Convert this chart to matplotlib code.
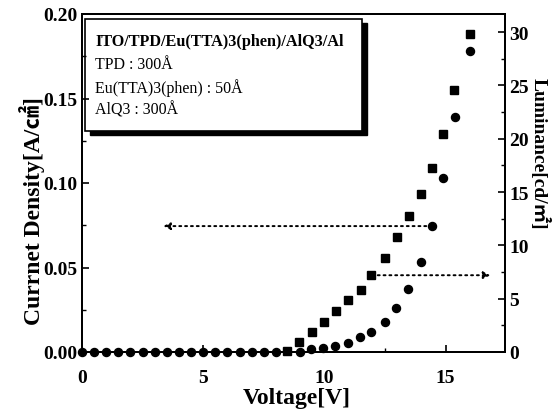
import matplotlib
matplotlib.use("Agg")
import matplotlib.pyplot as plt
from matplotlib.ticker import MultipleLocator
from matplotlib.patches import Rectangle

FAM = ['Liberation Serif', 'Noto Sans CJK JP', 'DejaVu Sans']
plt.rcParams['font.family'] = FAM

# Current density (circles, left axis)
v_cur = [0, 0.5, 1, 1.5, 2, 2.5, 3, 3.5, 4, 4.5, 5, 5.5, 6, 6.5, 7, 7.5, 8, 9,
         9.45, 9.95, 10.45, 10.98, 11.46, 11.93, 12.48, 12.97, 13.46, 14.0, 14.45, 14.9, 15.37, 16.0]
j_cur = [0, 0, 0, 0, 0, 0, 0, 0, 0, 0, 0, 0, 0, 0, 0, 0, 0, 0,
         0.0018, 0.0024, 0.0037, 0.0053, 0.0087, 0.012, 0.018, 0.026, 0.037, 0.053, 0.0745, 0.103, 0.139, 0.178]

# Luminance (squares, right axis)
v_lum = [8.46, 8.97, 9.49, 9.97, 10.48, 10.98, 11.49, 11.94, 12.49, 13.0, 13.48, 14.0, 14.45, 14.9, 15.34, 16.0]
lum = [0.1, 0.9, 1.85, 2.8, 3.8, 4.9, 5.85, 7.2, 8.8, 10.75, 12.8, 14.8, 17.3, 20.4, 24.6, 29.8]

legend_lines = ["ITO/TPD/Eu(TTA)3(phen)/AlQ3/Al", "TPD : 300Å", "Eu(TTA)3(phen) : 50Å", "AlQ3 : 300Å"]

fig = plt.figure(figsize=(5.6, 4.14), dpi=100)
ax = fig.add_axes([82/560, 61/414, 423/560, 338/414])
ax2 = ax.twinx()
ax.set_zorder(ax2.get_zorder() + 1)
ax.patch.set_visible(False)

ax.plot(v_cur, j_cur, 'o', color='black', markersize=5.8, zorder=3, clip_on=False)
ax2.plot(v_lum, lum, 's', color='black', markersize=5.2, zorder=3, clip_on=False)

ax.set_xlim(0, 17.45)
ax.set_ylim(0, 0.20)
ax2.set_ylim(0, 31.7)

ax.xaxis.set_major_locator(MultipleLocator(5))
ax.xaxis.set_minor_locator(MultipleLocator(2.5))
ax.yaxis.set_major_locator(MultipleLocator(0.05))
ax.yaxis.set_minor_locator(MultipleLocator(0.025))
ax2.yaxis.set_major_locator(MultipleLocator(5))
ax2.yaxis.set_minor_locator(MultipleLocator(2.5))

for a in (ax, ax2):
    a.tick_params(which='major', direction='in', length=5, width=1.2, labelsize=14, pad=3)
    a.tick_params(which='minor', direction='in', length=3, width=1.0)
    for s in a.spines.values():
        s.set_linewidth(1.4)
ax.tick_params(axis='x', pad=12)

ax.set_yticklabels([f"{t:.2f}" for t in ax.get_yticks()])
for lab in ax.get_xticklabels() + ax.get_yticklabels() + ax2.get_yticklabels():
    lab.set_fontweight('bold')

ax.set_xlabel("Voltage[V]", fontsize=17, fontweight='bold', va='center')
ax.xaxis.set_label_coords(0.508, -0.136)
ax.set_ylabel("Currnet Density[A/㎠]", fontsize=17, fontweight='bold', va='center')
ax.yaxis.set_label_coords(-0.118, 0.42)
ax2.set_ylabel("Luminance[cd/㎡]", fontsize=14, fontweight='bold', rotation=270, va='center')
ax2.yaxis.set_label_coords(1.083, 0.59)

# arrows
ax.annotate("", xy=(3.35, 0.0745), xytext=(14.2, 0.0745),
            arrowprops=dict(arrowstyle='-|>', linestyle=(0, (1, 2)), lw=1.4, color='black',
                            mutation_scale=10, shrinkA=0, shrinkB=0))
ax2.annotate("", xy=(16.85, 7.2), xytext=(12.2, 7.2),
             arrowprops=dict(arrowstyle='-|>', linestyle=(0, (1, 2)), lw=1.4, color='black',
                             mutation_scale=10, shrinkA=0, shrinkB=0))

# legend box with shadow
bx0, bx1, by0, by1 = 0.007, 0.662, 0.654, 0.985
sh = Rectangle((bx0 + 0.011, by0 - 0.013), bx1 - bx0, by1 - by0, transform=ax2.transAxes,
               facecolor='black', edgecolor='black', zorder=5, clip_on=False)
box = Rectangle((bx0, by0), bx1 - bx0, by1 - by0, transform=ax2.transAxes,
                facecolor='white', edgecolor='black', lw=1.2, zorder=6, clip_on=False)
ax2.add_patch(sh)
ax2.add_patch(box)
ys = [0.920, 0.852, 0.784, 0.719]
for i, (t, y) in enumerate(zip(legend_lines, ys)):
    ax2.text(0.031, y, t, transform=ax2.transAxes, fontsize=11.7 if i == 0 else 11.5,
             fontweight='bold' if i == 0 else 'normal', va='center', ha='left', zorder=7)

fig.savefig("out.png", dpi=100)
